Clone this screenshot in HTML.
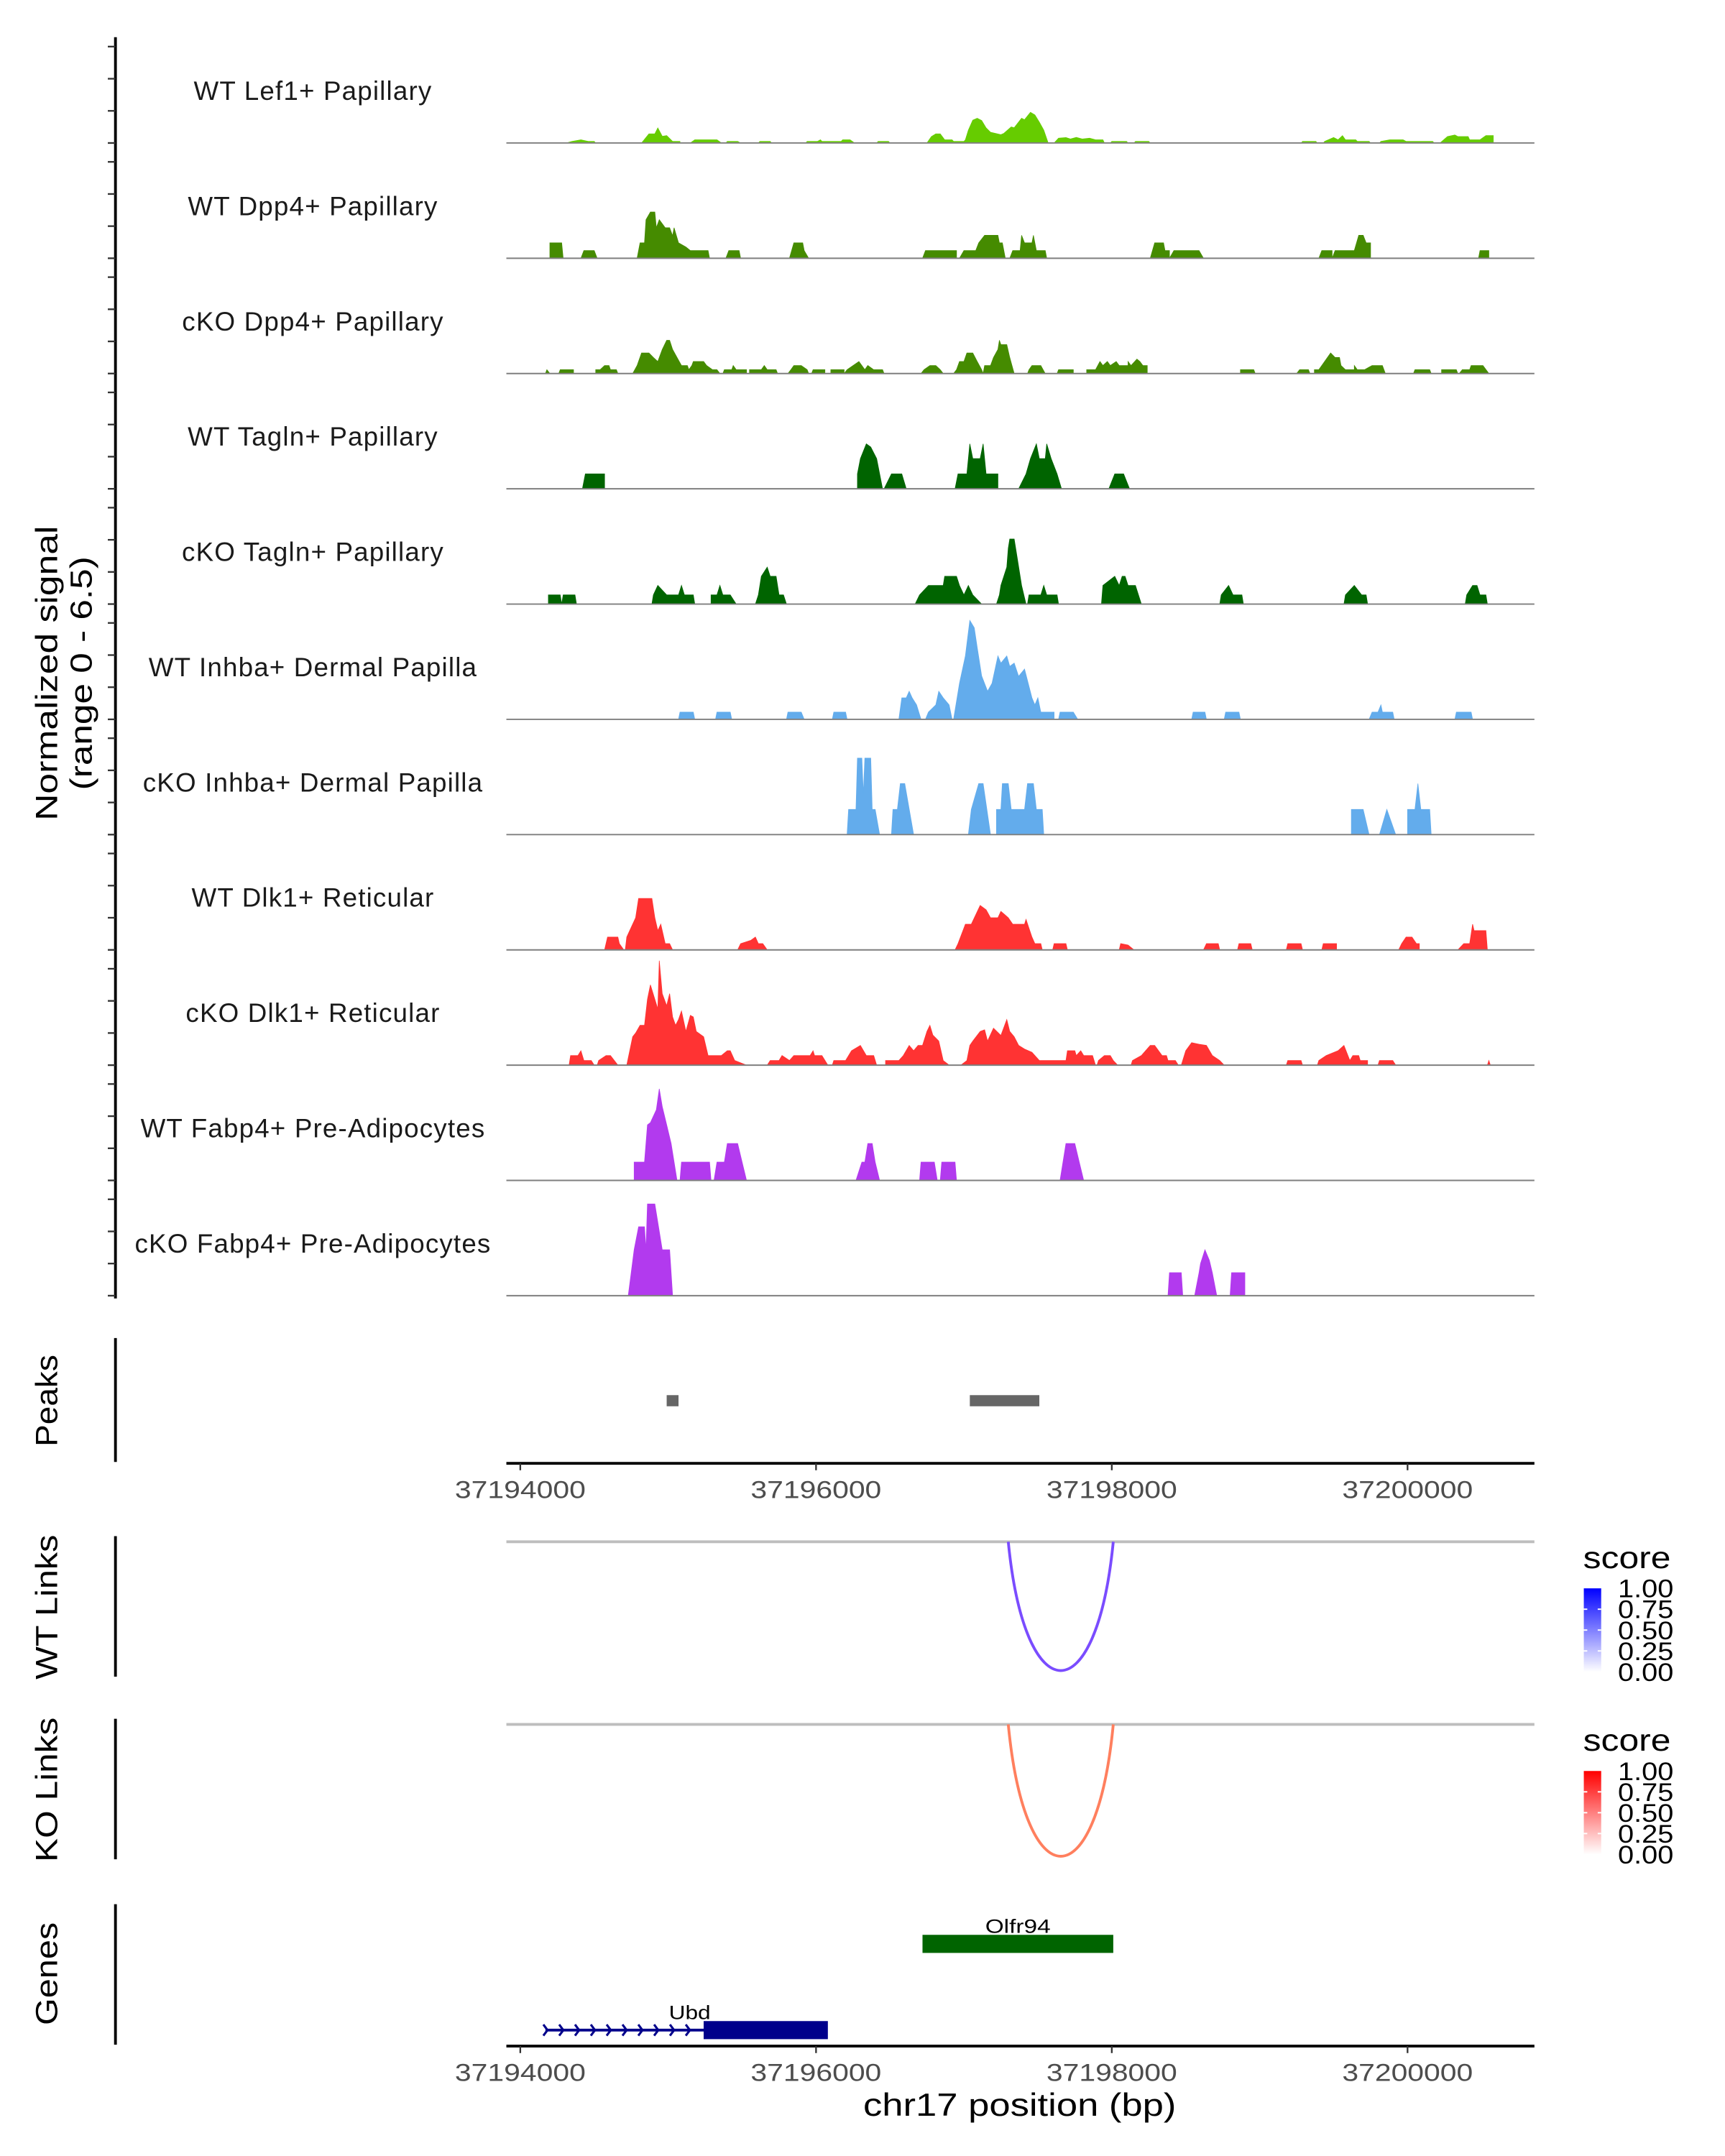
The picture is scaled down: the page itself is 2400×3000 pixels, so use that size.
<!DOCTYPE html>
<html><head><meta charset="utf-8"><style>
html,body{margin:0;padding:0;background:#fff}
svg{display:block}
text{font-family:"Liberation Sans",sans-serif}
</style></head><body>
<svg id="chart" xmlns="http://www.w3.org/2000/svg" width="2400" height="3000" viewBox="0 0 1240 1550">
<rect x="0" y="0" width="1240" height="1550" fill="#fff"/>
<defs>
<linearGradient id="gBlue" x1="0" y1="1" x2="0" y2="0"><stop offset="0" stop-color="#ffffff"/><stop offset="1" stop-color="#0000ff"/></linearGradient>
<linearGradient id="gRed" x1="0" y1="1" x2="0" y2="0"><stop offset="0" stop-color="#ffffff"/><stop offset="1" stop-color="#ff0000"/></linearGradient>
</defs>
<g id="tracks"></g>
<g id="lower"></g>
</svg>
<script>
const regionStart = 37193900;
const regionEnd = 37200830;
const trackNames = ["WT Lef1+ Papillary","WT Dpp4+ Papillary","cKO Dpp4+ Papillary","WT Tagln+ Papillary","cKO Tagln+ Papillary","WT Inhba+ Dermal Papilla","cKO Inhba+ Dermal Papilla","WT Dlk1+ Reticular","cKO Dlk1+ Reticular","WT Fabp4+ Pre-Adipocytes","cKO Fabp4+ Pre-Adipocytes"];
const trackColors = ["#66CC00","#458B00","#458B00","#006400","#006400","#63ACEC","#63ACEC","#FF3333","#FF3333","#B23AEE","#B23AEE"];
const yTicks = [0,2,4,6];
const yMax = 6.5;
const xTicks = [37194000,37196000,37198000,37200000];
const xTickLabels = ["37194000","37196000","37198000","37200000"];

const covLef1 = [[37194310,0],[37194350,0.1],[37194410,0.2],[37194460,0.1],[37194500,0.1],[37194510,0],
[37194820,0],[37194870,0.57],[37194910,0.57],[37194930,0.94],[37194960,0.42],[37194990,0.46],[37195030,0.1],[37195080,0.1],[37195080,0],
[37195150,0],[37195180,0.2],[37195330,0.2],[37195360,0],[37195390,0],[37195400,0.1],[37195470,0.1],[37195490,0],
[37195610,0],[37195620,0.1],[37195690,0.1],[37195700,0],
[37195930,0],[37195940,0.1],[37196010,0.1],[37196030,0.2],[37196040,0.1],[37196170,0.1],[37196180,0.2],[37196230,0.2],[37196260,0],
[37196410,0],[37196420,0.1],[37196490,0.1],[37196500,0],
[37196750,0],[37196780,0.4],[37196810,0.57],[37196840,0.57],[37196870,0.2],[37196920,0.2],[37196930,0.1],[37197000,0.1],
[37197010,0.2],[37197030,0.8],[37197060,1.42],[37197090,1.54],[37197120,1.4],[37197150,0.94],[37197180,0.67],[37197250,0.52],[37197270,0.6],[37197320,1.0],[37197340,0.95],[37197390,1.54],[37197410,1.45],[37197450,1.91],[37197480,1.75],[37197510,1.3],[37197540,0.8],[37197570,0],
[37197610,0],[37197640,0.3],[37197690,0.34],[37197720,0.25],[37197760,0.35],[37197800,0.25],[37197850,0.3],[37197890,0.2],[37197940,0.2],[37197950,0],
[37197990,0],[37198000,0.1],[37198100,0.1],[37198110,0],[37198150,0],[37198160,0.1],[37198250,0.1],[37198260,0],
[37199280,0],[37199290,0.1],[37199380,0.1],[37199390,0],
[37199430,0],[37199440,0.1],[37199500,0.34],[37199530,0.2],[37199560,0.46],[37199580,0.2],[37199650,0.2],[37199660,0.1],[37199740,0.1],[37199750,0],
[37199810,0],[37199820,0.1],[37199880,0.2],[37199970,0.2],[37199990,0.1],[37200170,0.1],[37200180,0],
[37200220,0],[37200270,0.4],[37200320,0.5],[37200340,0.4],[37200410,0.4],[37200420,0.2],[37200490,0.2],[37200530,0.46],[37200580,0.46],[37200580,0]];

const covWtDpp4 = [[37194200,0],[37194200,0.96],[37194280,0.96],[37194290,0],
[37194410,0],[37194430,0.48],[37194500,0.48],[37194520,0],
[37194790,0],[37194810,0.96],[37194840,0.96],[37194850,2.4],[37194880,2.88],[37194910,2.88],[37194920,1.9],[37194940,2.4],[37194980,1.9],[37195010,1.9],[37195030,1.4],[37195040,1.9],[37195070,0.96],[37195120,0.7],[37195150,0.48],[37195270,0.48],[37195280,0],
[37195390,0],[37195410,0.48],[37195480,0.48],[37195490,0],
[37195820,0],[37195850,0.96],[37195910,0.96],[37195920,0.48],[37195950,0],
[37196720,0],[37196740,0.48],[37196950,0.48],[37196950,0],
[37196970,0],[37197000,0.48],[37197080,0.48],[37197100,0.96],[37197140,1.43],[37197230,1.43],[37197240,0.96],[37197260,0.96],[37197280,0],
[37197310,0],[37197330,0.48],[37197380,0.48],[37197390,1.43],[37197410,0.96],[37197460,0.96],[37197470,1.43],[37197490,0.48],[37197550,0.48],[37197560,0],
[37198260,0],[37198290,0.96],[37198350,0.96],[37198360,0.48],[37198390,0.48],[37198390,0],[37198420,0.48],[37198590,0.48],[37198620,0],
[37199400,0],[37199420,0.48],[37199490,0.48],[37199490,0],[37199510,0.48],[37199640,0.48],[37199670,1.43],[37199700,1.43],[37199720,0.96],[37199750,0.96],[37199750,0],
[37200480,0],[37200490,0.48],[37200550,0.48],[37200550,0]];

const covKoDpp4 = [[37194170,0],[37194180,0.24],[37194200,0],
[37194260,0],[37194270,0.24],[37194360,0.24],[37194360,0],
[37194510,0],[37194510,0.24],[37194540,0.24],[37194570,0.5],[37194600,0.5],[37194610,0.24],[37194650,0.24],[37194660,0],
[37194760,0],[37194790,0.5],[37194820,1.28],[37194870,1.28],[37194900,1.0],[37194930,0.75],[37194960,1.5],[37194990,2.07],[37195010,2.07],[37195030,1.5],[37195060,1.0],[37195090,0.5],[37195130,0.5],[37195140,0.24],[37195160,0.5],[37195170,0.75],[37195240,0.75],[37195260,0.5],[37195300,0.24],[37195330,0.24],[37195350,0],
[37195370,0],[37195380,0.24],[37195430,0.24],[37195440,0.5],[37195460,0.24],[37195530,0.24],[37195530,0],
[37195550,0],[37195550,0.24],[37195630,0.24],[37195650,0.5],[37195670,0.24],[37195730,0.24],[37195740,0],
[37195810,0],[37195830,0.24],[37195850,0.5],[37195900,0.5],[37195940,0.24],[37195950,0],
[37195970,0],[37195980,0.24],[37196060,0.24],[37196060,0],
[37196100,0],[37196100,0.24],[37196190,0.24],[37196190,0],[37196210,0.24],[37196290,0.75],[37196330,0.24],[37196350,0.5],[37196390,0.24],[37196450,0.24],[37196460,0],
[37196710,0],[37196730,0.24],[37196770,0.5],[37196810,0.5],[37196840,0.24],[37196860,0],
[37196930,0],[37196950,0.24],[37196970,0.75],[37197000,0.75],[37197020,1.28],[37197060,1.28],[37197090,0.75],[37197120,0.24],[37197130,0],[37197140,0.5],[37197180,0.5],[37197200,1.0],[37197230,1.5],[37197240,2.07],[37197250,1.8],[37197290,1.8],[37197310,1.0],[37197340,0],
[37197430,0],[37197440,0.24],[37197460,0.5],[37197520,0.5],[37197550,0],
[37197630,0],[37197640,0.24],[37197740,0.24],[37197740,0],
[37197830,0],[37197830,0.24],[37197890,0.24],[37197920,0.75],[37197940,0.5],[37197970,0.75],[37197990,0.5],[37198030,0.75],[37198050,0.5],[37198110,0.5],[37198110,0.75],[37198130,0.5],[37198170,0.9],[37198190,0.75],[37198210,0.5],[37198240,0.5],[37198240,0],
[37198870,0],[37198870,0.24],[37198960,0.24],[37198970,0],
[37199250,0],[37199270,0.24],[37199330,0.24],[37199340,0],
[37199370,0],[37199370,0.24],[37199400,0.24],[37199420,0.5],[37199480,1.28],[37199510,1.0],[37199540,1.0],[37199550,0.5],[37199580,0.24],[37199640,0.24],[37199640,0.5],[37199660,0.24],[37199710,0.24],[37199760,0.5],[37199830,0.5],[37199850,0],
[37200040,0],[37200050,0.24],[37200150,0.24],[37200160,0],
[37200230,0],[37200230,0.24],[37200330,0.24],[37200340,0],
[37200350,0],[37200370,0.24],[37200420,0.24],[37200430,0.5],[37200510,0.5],[37200550,0]];

const covWtTagln = [[37194420,0],[37194440,0.93],[37194570,0.93],[37194570,0],
[37196280,0],[37196280,0.93],[37196300,1.88],[37196340,2.8],[37196370,2.6],[37196410,1.88],[37196450,0],
[37196460,0],[37196510,0.93],[37196580,0.93],[37196610,0],
[37196940,0],[37196960,0.93],[37197020,0.93],[37197040,2.8],[37197060,1.88],[37197110,1.88],[37197130,2.8],[37197150,0.93],[37197230,0.93],[37197230,0],
[37197370,0],[37197420,0.93],[37197450,1.88],[37197490,2.8],[37197510,1.88],[37197550,1.88],[37197560,2.8],[37197590,1.88],[37197630,0.93],[37197660,0],
[37197980,0],[37198020,0.93],[37198080,0.93],[37198120,0]];

const covKoTagln = [[37194190,0],[37194190,0.57],[37194270,0.57],[37194280,0],[37194290,0.57],[37194370,0.57],[37194380,0],
[37194890,0],[37194900,0.57],[37194930,1.16],[37194990,0.57],[37195070,0.57],[37195090,1.16],[37195110,0.57],[37195170,0.57],[37195180,0],
[37195290,0],[37195290,0.57],[37195330,0.57],[37195350,1.16],[37195370,0.57],[37195420,0.57],[37195460,0],
[37195590,0],[37195610,0.57],[37195630,1.73],[37195670,2.3],[37195690,1.73],[37195730,1.73],[37195750,0.57],[37195780,0.57],[37195800,0],
[37196670,0],[37196700,0.57],[37196760,1.16],[37196860,1.16],[37196870,1.73],[37196950,1.73],[37196970,1.16],[37197000,0.57],[37197030,1.16],[37197060,0.57],[37197120,0],
[37197220,0],[37197240,0.57],[37197250,1.16],[37197270,1.73],[37197290,2.3],[37197300,3.48],[37197310,4.05],[37197340,4.05],[37197360,2.9],[37197390,1.16],[37197420,0],
[37197430,0],[37197440,0.57],[37197520,0.57],[37197540,1.16],[37197560,0.57],[37197630,0.57],[37197640,0],
[37197930,0],[37197940,1.16],[37198020,1.73],[37198050,1.16],[37198070,1.73],[37198090,1.73],[37198110,1.16],[37198160,1.16],[37198200,0],
[37198730,0],[37198740,0.57],[37198790,1.16],[37198820,0.57],[37198880,0.57],[37198890,0],
[37199570,0],[37199580,0.57],[37199640,1.16],[37199690,0.57],[37199720,0.57],[37199730,0],
[37200390,0],[37200400,0.57],[37200440,1.16],[37200470,1.16],[37200490,0.57],[37200530,0.57],[37200540,0]];

const covWtInhba = [[37195070,0],[37195080,0.45],[37195170,0.45],[37195180,0],
[37195320,0],[37195330,0.45],[37195420,0.45],[37195430,0],
[37195800,0],[37195810,0.45],[37195900,0.45],[37195920,0],
[37196110,0],[37196120,0.45],[37196200,0.45],[37196210,0],
[37196560,0],[37196580,1.34],[37196610,1.34],[37196630,1.75],[37196650,1.34],[37196680,0.9],[37196710,0],
[37196740,0],[37196760,0.45],[37196810,0.9],[37196830,1.75],[37196860,1.34],[37196900,0.9],[37196920,0],
[37196930,0],[37196970,2.24],[37197010,3.95],[37197040,6.16],[37197070,5.7],[37197090,4.47],[37197120,2.7],[37197160,1.75],[37197190,2.24],[37197230,3.95],[37197250,3.5],[37197290,3.95],[37197310,3.3],[37197340,3.5],[37197370,2.68],[37197410,3.13],[37197460,1.34],[37197480,0.9],[37197500,1.34],[37197520,0.45],[37197610,0.45],[37197610,0],
[37197640,0],[37197650,0.45],[37197740,0.45],[37197770,0],
[37198540,0],[37198550,0.45],[37198630,0.45],[37198640,0],
[37198760,0],[37198770,0.45],[37198860,0.45],[37198870,0],
[37199740,0],[37199760,0.45],[37199800,0.45],[37199820,0.9],[37199830,0.45],[37199900,0.45],[37199910,0],
[37200320,0],[37200330,0.45],[37200430,0.45],[37200440,0]];

const covKoInhba = [[37196210,0],[37196220,1.57],[37196270,1.57],[37196280,4.76],[37196310,4.76],[37196320,2.5],[37196330,4.76],[37196370,4.76],[37196380,1.57],[37196400,1.57],[37196430,0],
[37196510,0],[37196520,1.57],[37196550,1.57],[37196570,3.18],[37196600,3.18],[37196660,0],
[37197030,0],[37197050,1.57],[37197100,3.18],[37197130,3.18],[37197180,0],
[37197220,0],[37197220,1.57],[37197250,1.57],[37197260,3.18],[37197300,3.18],[37197320,1.57],[37197410,1.57],[37197430,3.18],[37197470,3.18],[37197490,1.57],[37197530,1.57],[37197540,0],
[37199620,0],[37199620,1.57],[37199700,1.57],[37199740,0],
[37199810,0],[37199860,1.57],[37199920,0],
[37200000,0],[37200000,1.57],[37200050,1.57],[37200070,3.18],[37200090,1.57],[37200150,1.57],[37200160,0]];

const covWtDlk1 = [[37194570,0],[37194590,0.8],[37194660,0.8],[37194670,0.39],[37194700,0],
[37194710,0],[37194720,0.8],[37194760,1.6],[37194780,2.0],[37194800,3.2],[37194890,3.2],[37194910,2.0],[37194930,1.2],[37194950,1.6],[37194970,0.8],[37194980,0.39],[37195010,0.39],[37195030,0],
[37195470,0],[37195490,0.39],[37195560,0.6],[37195590,0.8],[37195610,0.39],[37195640,0.39],[37195670,0],
[37196940,0],[37196960,0.39],[37197010,1.6],[37197050,1.6],[37197110,2.77],[37197150,2.5],[37197180,2.0],[37197230,2.0],[37197250,2.4],[37197300,2.0],[37197330,1.6],[37197410,1.6],[37197420,1.9],[37197460,0.8],[37197480,0.39],[37197520,0.39],[37197530,0],
[37197600,0],[37197610,0.39],[37197690,0.39],[37197700,0],
[37198050,0],[37198060,0.39],[37198110,0.3],[37198150,0],
[37198620,0],[37198640,0.39],[37198720,0.39],[37198730,0],
[37198850,0],[37198860,0.39],[37198940,0.39],[37198950,0],
[37199180,0],[37199190,0.39],[37199280,0.39],[37199290,0],
[37199420,0],[37199430,0.39],[37199520,0.39],[37199520,0],
[37199940,0],[37199960,0.39],[37199990,0.8],[37200030,0.8],[37200060,0.39],[37200080,0.39],[37200080,0],
[37200340,0],[37200380,0.39],[37200420,0.39],[37200440,1.6],[37200450,1.2],[37200530,1.2],[37200540,0]];

const covKoDlk1 = [[37194330,0],[37194340,0.6],[37194390,0.6],[37194410,0.9],[37194430,0.29],[37194480,0.29],[37194500,0],
[37194520,0],[37194530,0.29],[37194580,0.6],[37194610,0.6],[37194660,0],
[37194720,0],[37194760,1.77],[37194780,2.0],[37194810,2.48],[37194840,2.48],[37194860,4.1],[37194880,5.0],[37194910,4.1],[37194930,3.5],[37194940,6.5],[37194960,4.45],[37194990,3.7],[37195010,4.45],[37195030,3.0],[37195050,2.48],[37195070,2.84],[37195090,3.37],[37195120,2.1],[37195150,3.1],[37195170,3.0],[37195190,2.1],[37195240,1.77],[37195270,0.6],[37195360,0.6],[37195400,0.9],[37195420,0.9],[37195450,0.29],[37195530,0],
[37195670,0],[37195690,0.29],[37195750,0.29],[37195770,0.6],[37195820,0.29],[37195850,0.6],[37195960,0.6],[37195980,0.9],[37195990,0.6],[37196040,0.6],[37196080,0],
[37196110,0],[37196120,0.29],[37196200,0.29],[37196240,0.9],[37196300,1.23],[37196340,0.6],[37196390,0.6],[37196410,0],
[37196470,0],[37196470,0.29],[37196560,0.29],[37196590,0.6],[37196630,1.23],[37196660,0.9],[37196690,1.23],[37196720,1.23],[37196750,2.1],[37196770,2.48],[37196790,1.87],[37196830,1.5],[37196860,0.29],[37196900,0],
[37196980,0],[37197020,0.29],[37197040,1.23],[37197060,1.5],[37197110,2.1],[37197140,2.2],[37197160,1.5],[37197200,2.3],[37197250,1.85],[37197290,2.84],[37197310,2.1],[37197340,1.77],[37197370,1.23],[37197410,1.0],[37197460,0.8],[37197480,0.6],[37197510,0.29],[37197690,0.29],[37197700,0.9],[37197750,0.9],[37197760,0.6],[37197790,0.9],[37197810,0.6],[37197870,0.6],[37197890,0],
[37197900,0],[37197910,0.29],[37197950,0.6],[37197990,0.6],[37198010,0.29],[37198040,0],
[37198130,0],[37198140,0.29],[37198200,0.6],[37198260,1.23],[37198290,1.23],[37198340,0.6],[37198370,0.6],[37198380,0.29],[37198430,0.29],[37198450,0],
[37198470,0],[37198500,0.9],[37198540,1.4],[37198590,1.3],[37198640,1.23],[37198680,0.6],[37198730,0.29],[37198760,0],
[37199180,0],[37199190,0.29],[37199280,0.29],[37199290,0],
[37199390,0],[37199400,0.29],[37199450,0.6],[37199530,0.9],[37199570,1.23],[37199610,0.29],[37199630,0.6],[37199670,0.6],[37199680,0.29],[37199730,0.29],[37199730,0],
[37199800,0],[37199810,0.29],[37199900,0.29],[37199920,0],
[37200540,0],[37200550,0.29],[37200560,0]];

const covWtFabp4 = [[37194770,0],[37194770,1.14],[37194840,1.14],[37194860,3.46],[37194880,3.6],[37194920,4.4],[37194940,5.7],[37194960,4.6],[37194990,3.46],[37195020,2.3],[37195060,0],
[37195080,0],[37195090,1.14],[37195280,1.14],[37195290,0],
[37195310,0],[37195330,1.14],[37195380,1.14],[37195400,2.3],[37195470,2.3],[37195500,1.14],[37195530,0],
[37196270,0],[37196310,1.14],[37196330,1.14],[37196350,2.3],[37196380,2.3],[37196400,1.14],[37196430,0],
[37196700,0],[37196710,1.14],[37196800,1.14],[37196820,0],
[37196840,0],[37196850,1.14],[37196940,1.14],[37196950,0],
[37197650,0],[37197690,2.3],[37197750,2.3],[37197780,1.14],[37197810,0]];

const covKoFabp4 = [[37194730,0],[37194750,1.43],[37194770,2.86],[37194800,4.29],[37194840,4.29],[37194850,2.86],[37194860,5.71],[37194910,5.71],[37194940,4.0],[37194960,2.86],[37195010,2.86],[37195020,1.43],[37195030,0],
[37198380,0],[37198390,1.43],[37198470,1.43],[37198480,0],
[37198560,0],[37198590,1.43],[37198600,2.0],[37198630,2.86],[37198660,2.2],[37198680,1.43],[37198710,0],
[37198800,0],[37198810,1.43],[37198900,1.43],[37198900,0]];

const coverage = [covLef1,covWtDpp4,covKoDpp4,covWtTagln,covKoTagln,covWtInhba,covKoInhba,covWtDlk1,covKoDlk1,covWtFabp4,covKoFabp4];

const peakStarts = [37194990,37197040];
const peakEnds = [37195070,37197510];
const wtLinkStart = [37197300]; const wtLinkEnd = [37198010]; const wtLinkScore = [0.55];
const koLinkStart = [37197300]; const koLinkEnd = [37198010]; const koLinkScore = [0.55];
const geneNames = ["Olfr94","Ubd"];
const geneStarts = [37196720,37194170];
const geneThickStarts = [37196720,37195240];
const geneEnds = [37198010,37196080];
const geneColors = ["#006400","#00008B"];

const NS = "http://www.w3.org/2000/svg";
const X0 = 374, XS = 0.1063;
function xs(bp){ return X0 + (bp - 37194000) * XS; }
const plotL = 364;
const plotR = 1103;
const base0 = 102.8, trackStep = 82.87, unitPx = 11.55;
function ys(i, v){ return base0 + i*trackStep - v*unitPx; }
function el(tag, attrs, parent, txt){
  const e = document.createElementNS(NS, tag);
  for (const k in attrs) e.setAttribute(k, attrs[k]);
  if (txt !== undefined) e.textContent = txt;
  parent.appendChild(e); return e;
}
const gT = document.getElementById('tracks');
const gL = document.getElementById('lower');

const ax = el('line',{x1:83,y1:ys(0,yMax)-1,x2:83,y2:ys(10,0)+2,stroke:'#000','stroke-width':2},gT);



coverage.forEach((pts, i) => {
  const g = el('g',{},gT);
  
  
  yTicks.forEach(t => {
    const tk = el('line',{x1:77.5,x2:83,y1:ys(i,t),y2:ys(i,t),stroke:'#333','stroke-width':1.2},g);
    
    
  });
  let d = 'M' + xs(pts[0][0]).toFixed(2) + ',' + ys(i,0).toFixed(2);
  pts.forEach(p => { d += 'L' + xs(p[0]).toFixed(2) + ',' + ys(i,p[1]).toFixed(2); });
  d += 'L' + xs(pts[pts.length-1][0]).toFixed(2) + ',' + ys(i,0).toFixed(2) + 'Z';
  const area = el('path',{d:d,fill:trackColors[i],stroke:trackColors[i],'stroke-width':0.4},g);
  
  
  const bl = el('line',{x1:plotL,x2:plotR,y1:ys(i,0),y2:ys(i,0),stroke:'#7f7f7f','stroke-width':1},g);
  
  
  const lb = el('text',{x:225,y:ys(i,0)-31,'text-anchor':'middle','font-size':19,fill:'#1a1a1a','letter-spacing':0.6},g,trackNames[i]);
  
  
});

function ytitle(lines, lens, cx, cy, name){
  const t = el('text',{transform:'translate('+cx+','+cy+') rotate(-90)','text-anchor':'middle','font-size':22,fill:'#000'},gL);
  
  
  lines.forEach((s,k)=>{ el('tspan',{x:0,dy:k===0?0:25,textLength:lens[k],lengthAdjust:'spacingAndGlyphs'},t,s); });
}
ytitle(['Normalized signal','(range 0 - 6.5)'],[212,168],41,484,'signal-y-title');

function vaxis(y1,y2,name){ const a = el('line',{x1:83,x2:83,y1:y1,y2:y2,stroke:'#000','stroke-width':2},gL);   }
vaxis(962,1051,'peaks-axis');
ytitle(['Peaks'],[66],41,1007,'peaks-title');
peakStarts.forEach((s,k)=>{
  const r = el('rect',{x:xs(s),y:1003,width:xs(peakEnds[k])-xs(s),height:8,fill:'#666'},gL);
  
  
});
function xaxis(y,name){
  const a = el('line',{x1:plotL,x2:plotR,y1:y,y2:y,stroke:'#000','stroke-width':2},gL);
  
  
  xTicks.forEach((t,k)=>{
    const tk = el('line',{x1:xs(t),x2:xs(t),y1:y,y2:y+5,stroke:'#333','stroke-width':1.2},gL);
    
    
    const tl = el('text',{x:xs(t),y:y+25,'text-anchor':'middle','font-size':17.5,fill:'#4d4d4d',textLength:94,lengthAdjust:'spacingAndGlyphs'},gL,xTickLabels[k]);
    
    
  });
}
xaxis(1052,'peaks-x-axis');

function links(base, bottom, starts, ends, color, title, grad, axisName, titleName){
  vaxis(base-4, base+97, axisName);
  ytitle([title],[104],41,base+47,titleName);
  const bl = el('line',{x1:plotL,x2:plotR,y1:base,y2:base,stroke:'#bebebe','stroke-width':2},gL);
  
  
  starts.forEach((s,k)=>{
    const a = xs(s), b = xs(ends[k]);
    const c = base + (bottom-base)/0.75;
    const p = el('path',{d:'M'+a+','+base+' C'+(a+(b-a)*0.16)+','+c+' '+(b-(b-a)*0.16)+','+c+' '+b+','+base,fill:'none',stroke:color,'stroke-width':2},gL);
    
    
  });
  const lt = el('text',{x:1138,y:base+19,'font-size':22,fill:'#000',textLength:63,lengthAdjust:'spacingAndGlyphs'},gL,'score');
  
  
  const cb = el('rect',{x:1138.5,y:base+33.5,width:12.5,height:60,fill:'url(#'+grad+')'},gL);
  
  
  ['1.00','0.75','0.50','0.25','0.00'].forEach((s,k)=>{
    const yy = base+33.5+k*15;
    if(k>0&&k<4){ el('line',{x1:1138.5,x2:1141,y1:yy,y2:yy,stroke:'#fff','stroke-width':1},gL); el('line',{x1:1148.5,x2:1151,y1:yy,y2:yy,stroke:'#fff','stroke-width':1},gL); }
    const t = el('text',{x:1163,y:yy+6.5,'font-size':18,fill:'#000',textLength:40,lengthAdjust:'spacingAndGlyphs'},gL,s);
    
    
  });
}
links(1108.4,1201,wtLinkStart,wtLinkEnd,'#7a4cff','WT Links','gBlue','wt-links-axis','wt-links-title');
links(1239.7,1334.5,koLinkStart,koLinkEnd,'#ff7f5e','KO Links','gRed','ko-links-axis','ko-links-title');

vaxis(1369,1470,'genes-axis');
ytitle(['Genes'],[74],41,1419,'genes-title');
const geneRows = [1397.5,1459.5];
const geneLabelLen = [47,30];
geneNames.forEach((n,k)=>{
  const y = geneRows[k];
  const g = el('g',{},gL);
  
  
  el('line',{x1:xs(geneStarts[k]),x2:xs(geneThickStarts[k]),y1:y,y2:y,stroke:geneColors[k],'stroke-width':2},g);
  for(let bp=geneStarts[k]; bp<geneThickStarts[k]-60; bp+=107){
    const x = xs(bp);
    el('path',{d:'M'+(x-1.5)+','+(y-4)+' L'+(x+1.5)+','+y+' L'+(x-1.5)+','+(y+4),fill:'none',stroke:geneColors[k],'stroke-width':1.6},g);
  }
  el('rect',{x:xs(geneThickStarts[k]),y:y-6.5,width:xs(geneEnds[k])-xs(geneThickStarts[k]),height:13,fill:geneColors[k]},g);
  const lx = k===0 ? (xs(geneStarts[k])+xs(geneEnds[k]))/2 : xs(geneThickStarts[k])-10;
  el('text',{x:lx,y:y-8,'text-anchor':'middle','font-size':14,fill:'#000',textLength:geneLabelLen[k],lengthAdjust:'spacingAndGlyphs'},g,n);
});
xaxis(1471,'genes-x-axis');
const xt = el('text',{x:733,y:1521,'text-anchor':'middle','font-size':23,fill:'#000',textLength:225,lengthAdjust:'spacingAndGlyphs'},gL,'chr17 position (bp)');


</script>
</body></html>
